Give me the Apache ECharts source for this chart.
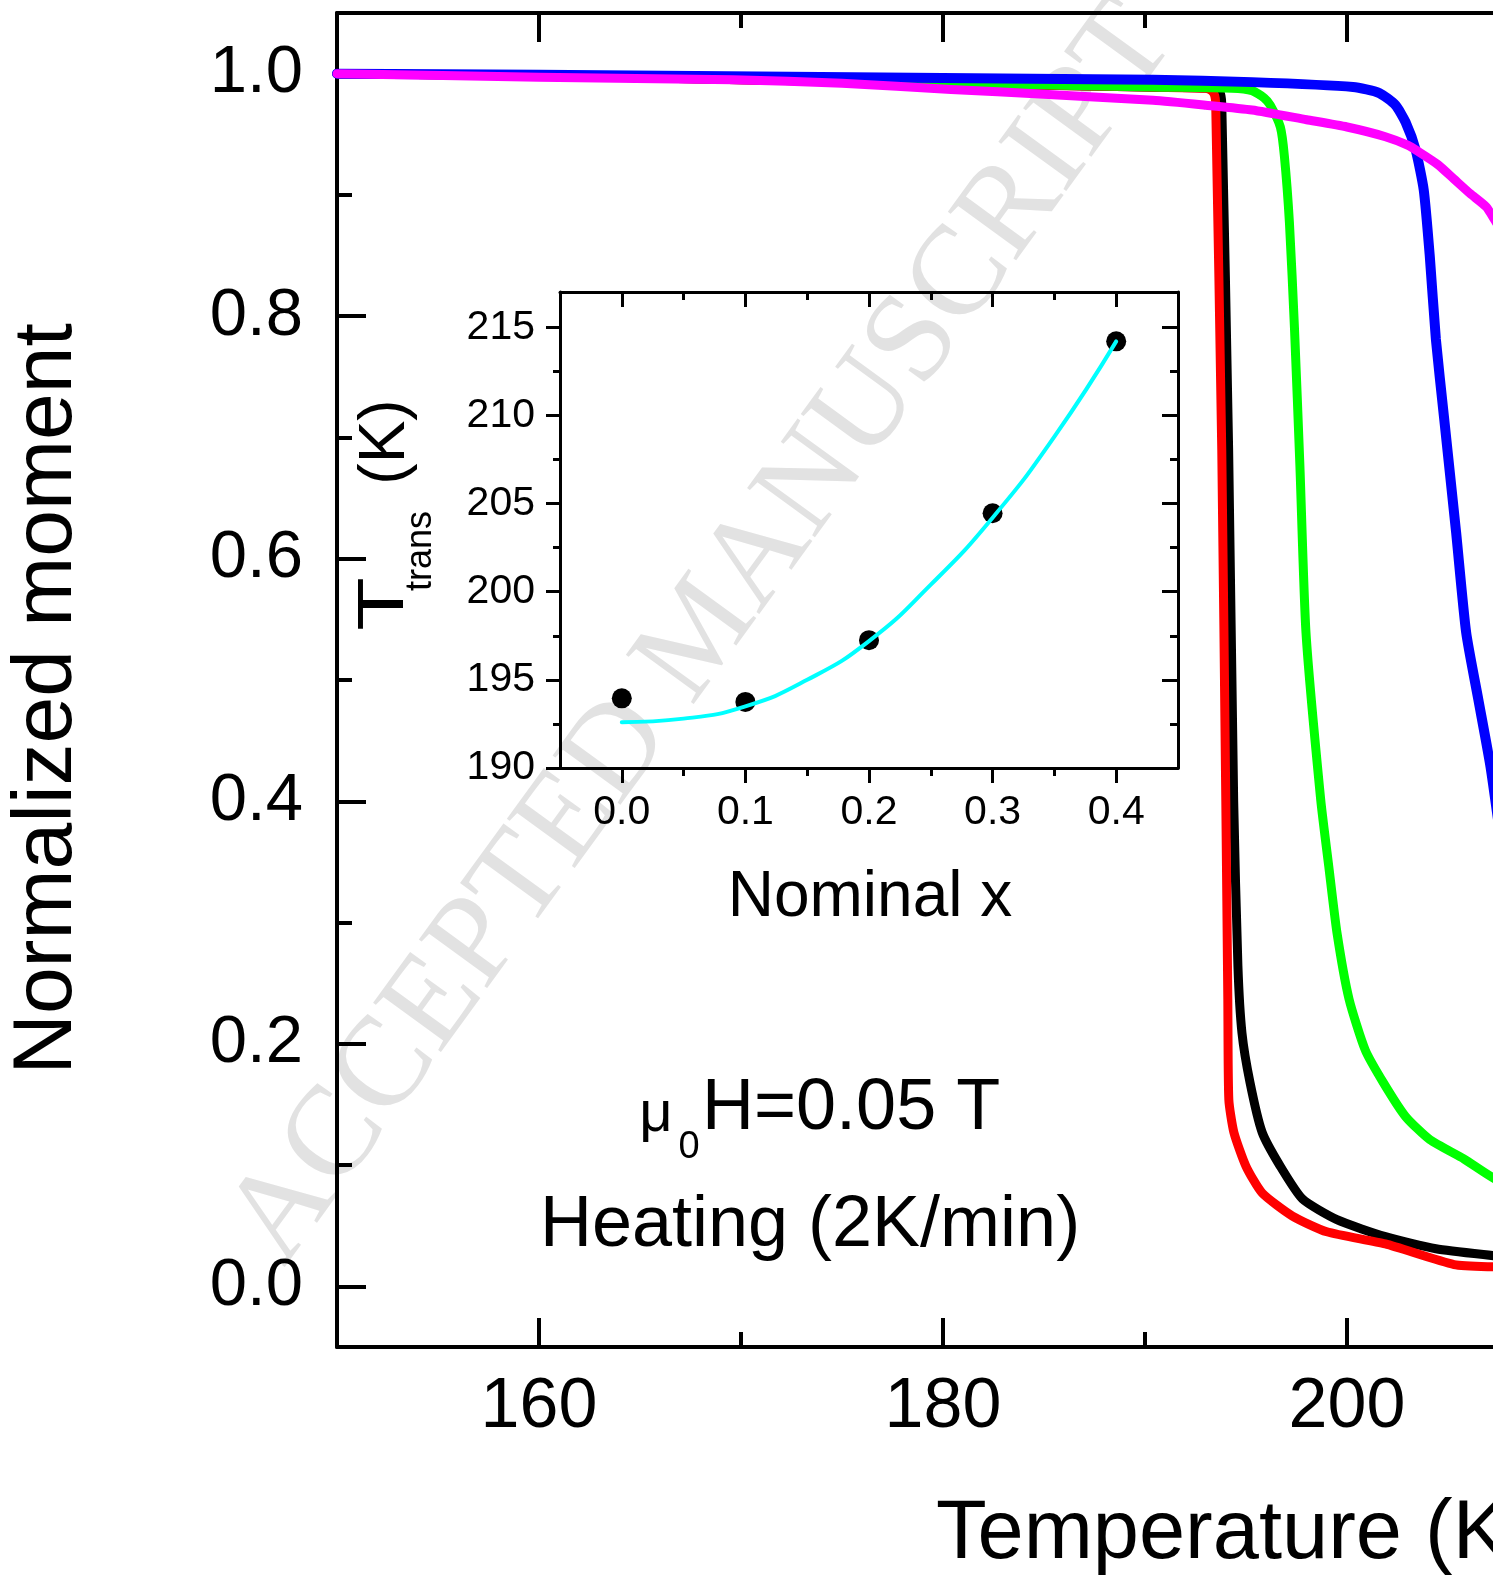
<!DOCTYPE html>
<html>
<head>
<meta charset="utf-8">
<script src="https://cdn.jsdelivr.net/npm/echarts@6/dist/echarts.min.js"></script>
<style>
html,body{margin:0;padding:0;background:#fff;}
#chart{width:1493px;height:1585px;}
</style>
</head>
<body>
<div id="chart"></div>
<script>
// ---------- data (main panel: Temperature K vs normalized moment) ----------
const curveBlack = [[150,1.0],[160,0.998],[170,0.995],[180,0.992],[190,0.989],[193.4,0.988],[193.7,0.985],[193.8,0.975],[194.14,0.69],[194.39,0.40],[194.6,0.264],[194.8,0.209],[195.2,0.168],[195.8,0.127],[196.7,0.099],[197.8,0.072],[199.5,0.055],[201.9,0.041],[204.4,0.031],[207.4,0.025],[209,0.022]];
const curveRed = [[150,1.0],[160,0.998],[170,0.995],[180,0.992],[190,0.989],[193.0,0.988],[193.3,0.986],[193.45,0.982],[193.5,0.975],[193.8,0.69],[194.0,0.40],[194.1,0.237],[194.15,0.154],[194.4,0.127],[195.0,0.099],[195.8,0.077],[197.3,0.058],[199.0,0.045],[201.9,0.035],[205.3,0.018],[207.4,0.016],[209,0.015]];
const curveGreen = [[150,1.0],[160,0.998],[175,0.994],[190.4,0.989],[194.3,0.988],[195.3,0.986],[195.9,0.980],[196.2,0.974],[196.7,0.956],[196.9,0.932],[197.15,0.877],[197.4,0.79],[197.67,0.676],[197.97,0.539],[198.7,0.401],[199.1,0.346],[199.5,0.292],[200.1,0.237],[200.9,0.195],[201.8,0.168],[202.9,0.140],[204.1,0.121],[205.8,0.105],[207.4,0.088],[209,0.08]];
const curveBlue = [[150,1.0],[160,0.999],[175.5,0.997],[190.4,0.995],[195.3,0.993],[200.3,0.989],[201.6,0.984],[202.4,0.974],[202.9,0.960],[203.4,0.937],[203.8,0.904],[204.1,0.849],[204.4,0.781],[204.8,0.717],[205.4,0.622],[205.9,0.539],[206.5,0.484],[207.1,0.429],[207.6,0.37],[208.2,0.30]];
const curveMagenta = [[150,1.0],[160,0.997],[169.6,0.995],[175,0.992],[180.4,0.987],[185,0.983],[190.4,0.978],[193,0.974],[195.3,0.970],[198,0.962],[200,0.956],[201.9,0.948],[203,0.941],[203.6,0.935],[204.5,0.925],[205.3,0.913],[206.1,0.901],[206.9,0.89],[207.4,0.877],[208.2,0.86],[209,0.84]];

const xMajorTicks = [160, 180, 200];
const xMinorTicks = [170, 190];
const yMajorTicks = [0.0, 0.2, 0.4, 0.6, 0.8, 1.0];
const yMinorTicks = [0.1, 0.3, 0.5, 0.7, 0.9];

// ---------- data (inset: nominal x vs T_trans) ----------
const insetX = [0.0, 0.1, 0.2, 0.3, 0.4];
const insetT = [193.95, 193.75, 197.25, 204.45, 214.2];
const fitX = [0.0, 0.05, 0.1, 0.15, 0.2, 0.25, 0.3, 0.35, 0.4];
const fitT = [192.6, 192.8, 193.5, 195.0, 197.2, 200.4, 204.2, 208.8, 214.2];
const insetXMajor = [0.0, 0.1, 0.2, 0.3, 0.4];
const insetXMinor = [0.05, 0.15, 0.25, 0.35];
const insetYMajor = [190, 195, 200, 205, 210, 215];
const insetYMinor = [192.5, 197.5, 202.5, 207.5, 212.5];

const FF = "'Liberation Sans', Arial, sans-serif";
const chart = echarts.init(document.getElementById('chart'), null, {renderer: 'canvas'});

function ax(o, w) {
  w = w || 4;
  const ls = {color: '#000', width: w};
  return {
    type: 'value', splitLine: {show: false}, scale: false,
    gridIndex: o.gridIndex, position: o.position, min: o.min, max: o.max,
    axisLine: {show: !!o.line, onZero: false, lineStyle: ls},
    axisTick: {show: true, inside: o.inside, length: o.len, customValues: o.ticks, lineStyle: ls},
    axisLabel: o.label ? Object.assign({show: true, color: '#000', fontFamily: FF, customValues: o.ticks}, o.label)
                       : {show: false}
  };
}

// x range runs to the right edge of the picture (plot is cropped there)
const XMIN = 150, XMAX = 150 + (1493 - 337) / 20.2, YMIN = -0.05, YMAX = 1.05;
const IXMIN = -0.05, IXMAX = 0.45, IYMIN = 190, IYMAX = 217;
const fmt1 = v => Number(v).toFixed(1);

const lineCommon = {type: 'line', xAxisIndex: 0, yAxisIndex: 0, showSymbol: false, smooth: 0.2};

const option = {
  backgroundColor: '#ffffff',
  animation: false,
  grid: [
    {left: 337, top: 13, right: 0, height: 1334, containLabel: false},
    {left: 560, top: 292, width: 618, height: 476, containLabel: false}
  ],
  xAxis: [
    ax({gridIndex: 0, position: 'bottom', min: XMIN, max: XMAX, line: true, inside: true, len: 29, ticks: xMajorTicks,
        label: {fontSize: 70, margin: 26}}),
    ax({gridIndex: 0, position: 'bottom', min: XMIN, max: XMAX, inside: true, len: 15, ticks: xMinorTicks}),
    ax({gridIndex: 0, position: 'top', min: XMIN, max: XMAX, line: true, inside: true, len: 29, ticks: xMajorTicks}),
    ax({gridIndex: 0, position: 'top', min: XMIN, max: XMAX, inside: true, len: 15, ticks: xMinorTicks}),
    // inset
    ax({gridIndex: 1, position: 'bottom', min: IXMIN, max: IXMAX, line: true, inside: false, len: 15, ticks: insetXMajor,
        label: {fontSize: 41, margin: 24, formatter: fmt1}}, 3),
    ax({gridIndex: 1, position: 'bottom', min: IXMIN, max: IXMAX, inside: false, len: 8, ticks: insetXMinor}, 3),
    ax({gridIndex: 1, position: 'top', min: IXMIN, max: IXMAX, line: true, inside: true, len: 15, ticks: insetXMajor}, 3),
    ax({gridIndex: 1, position: 'top', min: IXMIN, max: IXMAX, inside: true, len: 8, ticks: insetXMinor}, 3)
  ],
  yAxis: [
    ax({gridIndex: 0, position: 'left', min: YMIN, max: YMAX, line: true, inside: true, len: 29, ticks: yMajorTicks,
        label: {fontSize: 67, margin: 34, formatter: fmt1}}),
    ax({gridIndex: 0, position: 'left', min: YMIN, max: YMAX, inside: true, len: 15, ticks: yMinorTicks}),
    // inset
    ax({gridIndex: 1, position: 'left', min: IYMIN, max: IYMAX, line: true, inside: false, len: 14, ticks: insetYMajor,
        label: {fontSize: 41, margin: 25}}, 3),
    ax({gridIndex: 1, position: 'left', min: IYMIN, max: IYMAX, inside: false, len: 7, ticks: insetYMinor}, 3),
    ax({gridIndex: 1, position: 'right', min: IYMIN, max: IYMAX, line: true, inside: true, len: 16, ticks: insetYMajor}, 3),
    ax({gridIndex: 1, position: 'right', min: IYMIN, max: IYMAX, inside: true, len: 8, ticks: insetYMinor}, 3)
  ],
  series: [
    Object.assign({}, lineCommon, {name: 'black', data: curveBlack, z: 3,
     lineStyle: {color: '#000000', width: 9, join: 'round', cap: 'round'}}),
    Object.assign({}, lineCommon, {name: 'red', data: curveRed, z: 4,
     lineStyle: {color: '#ff0000', width: 9, join: 'round', cap: 'round'}}),
    Object.assign({}, lineCommon, {name: 'green', data: curveGreen, z: 5,
     lineStyle: {color: '#00ff00', width: 9, join: 'round', cap: 'round'}}),
    Object.assign({}, lineCommon, {name: 'blue', data: curveBlue, z: 6,
     lineStyle: {color: '#0000ff', width: 10, join: 'round', cap: 'round'}}),
    Object.assign({}, lineCommon, {name: 'magenta', data: curveMagenta, z: 7,
     lineStyle: {color: '#ff00ff', width: 9, join: 'round', cap: 'round'}}),
    {type: 'scatter', name: 'Ttrans', xAxisIndex: 4, yAxisIndex: 2, z: 8,
     data: insetX.map((x, i) => [x, insetT[i]]), symbol: 'circle', symbolSize: 20,
     itemStyle: {color: '#000', opacity: 1}},
    {type: 'line', name: 'fit', xAxisIndex: 4, yAxisIndex: 2, z: 9, smooth: 0.5,
     data: fitX.map((x, i) => [x, fitT[i]]), showSymbol: false,
     lineStyle: {color: '#00ffff', width: 4, cap: 'round'}}
  ],
  graphic: [
    {type: 'text', x: 703, y: 634, rotation: 54 * Math.PI / 180, z: -1, silent: true,
     style: {text: 'ACCEPTED MANUSCRIPT', fontSize: 128, fontFamily: "'Liberation Serif', 'Times New Roman', serif",
             fill: '#e2e2e2', align: 'center', verticalAlign: 'middle'}},
    {type: 'text', x: 48, y: 699, rotation: Math.PI / 2, z: 10,
     style: {text: 'Normalized moment', fontSize: 84, fontFamily: FF, fill: '#000', align: 'center', verticalAlign: 'middle'}},
    {type: 'text', x: 936, y: 1535, z: 10,
     style: {text: 'Temperature (K)', fontSize: 83, fontFamily: FF, fill: '#000', align: 'left', verticalAlign: 'middle'}},
    {type: 'text', x: 870, y: 898, z: 10,
     style: {text: 'Nominal x', fontSize: 64, fontFamily: FF, fill: '#000', align: 'center', verticalAlign: 'middle'}},
    {type: 'text', x: 385, y: 604, rotation: Math.PI / 2, scaleX: 1.35, z: 10,
     style: {text: 'T', fontSize: 65, fontFamily: FF, fill: '#000', align: 'center', verticalAlign: 'middle'}},
    {type: 'text', x: 421, y: 551, rotation: Math.PI / 2, z: 10,
     style: {text: 'trans', fontSize: 36, fontFamily: FF, fill: '#000', align: 'center', verticalAlign: 'middle'}},
    {type: 'text', x: 386, y: 442, rotation: Math.PI / 2, z: 10,
     style: {text: '(K)', fontSize: 64, fontFamily: FF, fill: '#000', align: 'center', verticalAlign: 'middle'}},
    {type: 'text', x: 656, y: 1115, z: 10,
     style: {text: 'μ', fontSize: 58, fontFamily: FF, fill: '#000', align: 'center', verticalAlign: 'middle'}},
    {type: 'text', x: 689, y: 1148, z: 10,
     style: {text: '0', fontSize: 38, fontFamily: FF, fill: '#000', align: 'center', verticalAlign: 'middle'}},
    {type: 'text', x: 702, y: 1109, z: 10,
     style: {text: 'H=0.05 T', fontSize: 72, fontFamily: FF, fill: '#000', align: 'left', verticalAlign: 'middle'}},
    {type: 'text', x: 810, y: 1226, z: 10,
     style: {text: 'Heating (2K/min)', fontSize: 72, fontFamily: FF, fill: '#000', align: 'center', verticalAlign: 'middle'}}
  ]
};
chart.setOption(option);
</script>
</body>
</html>
